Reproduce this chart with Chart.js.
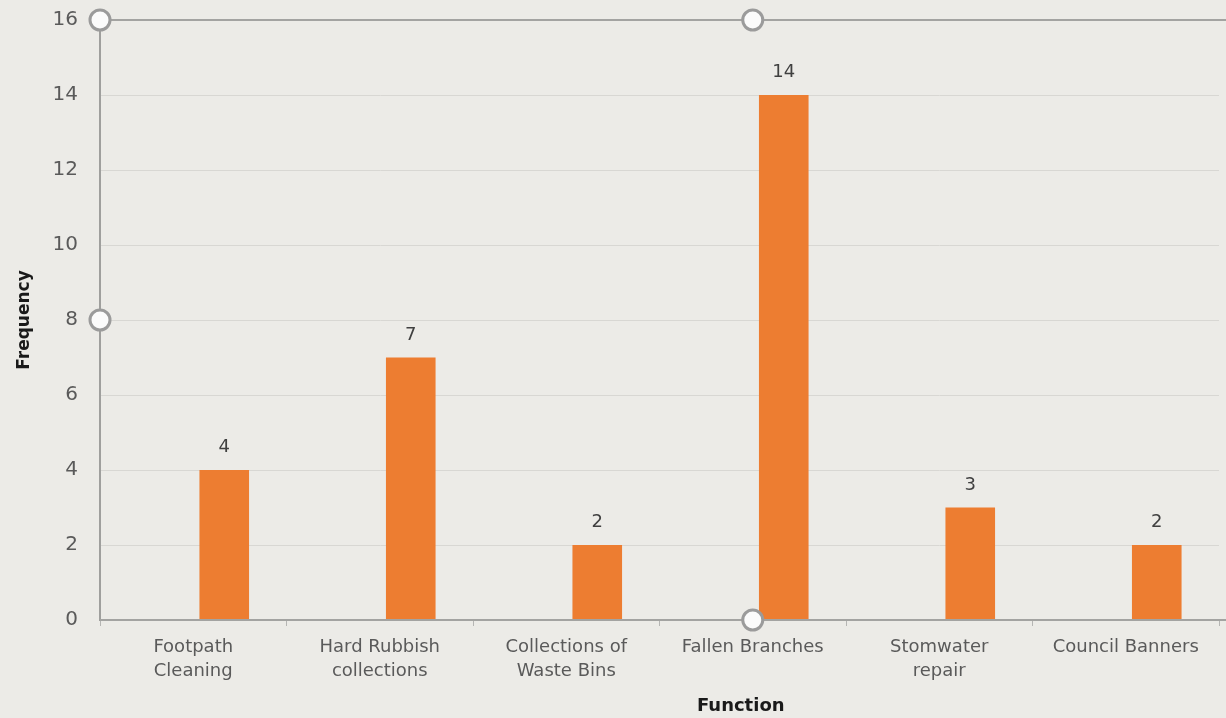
<!DOCTYPE html>
<html>
<head>
<meta charset="utf-8">
<script src="https://cdn.jsdelivr.net/npm/chart.js@4/dist/chart.umd.min.js"></script>
<style>
  html, body { margin: 0; padding: 0; background: #ecebe7; overflow: hidden; }
  #wrap { width: 1226px; height: 718px; position: relative; }
</style>
</head>
<body>
<div id="wrap"><canvas id="chart"></canvas></div>
<script>
var categories = [
    ['Footpath', 'Cleaning'],
    ['Hard Rubbish', 'collections'],
    ['Collections of', 'Waste Bins'],
    'Fallen Branches',
    ['Stomwater', 'repair'],
    'Council Banners'
];
var frequency = [4, 7, 2, 14, 3, 2];
// empty first series, as in the source sheet (keeps bars right of centre)
var emptySeries = [null, null, null, null, null, null];
var yTicks = [0, 2, 4, 6, 8, 10, 12, 14, 16];

var FONT = "'DejaVu Sans', sans-serif";

var sheetPlugin = {
    id: 'sheet',
    beforeDraw: function(chart) {
        var ctx = chart.ctx;
        ctx.save();
        ctx.fillStyle = '#ecebe7';
        ctx.fillRect(0, 0, chart.width, chart.height);
        ctx.restore();
    },
    afterDatasetsDraw: function(chart) {
        var ctx = chart.ctx;
        var meta = chart.getDatasetMeta(1);
        ctx.save();
        ctx.font = '18px ' + FONT;
        ctx.fillStyle = '#404040';
        ctx.textAlign = 'center';
        ctx.textBaseline = 'alphabetic';
        meta.data.forEach(function(bar, i) {
            ctx.fillText(String(frequency[i]), bar.x, bar.y - 18);
        });
        ctx.restore();
    },
    afterDraw: function(chart) {
        var ctx = chart.ctx;
        var area = chart.chartArea;
        var xs = chart.scales.x;
        var midX = xs.getPixelForValue(3);
        ctx.save();
        // frame lines of the selected plot area
        ctx.strokeStyle = '#a3a3a1';
        ctx.lineWidth = 2;
        ctx.beginPath();
        ctx.moveTo(area.left, area.top);
        ctx.lineTo(chart.width, area.top);
        ctx.moveTo(area.left, area.bottom);
        ctx.lineTo(chart.width, area.bottom);
        ctx.stroke();
        // selection handles
        var handles = [
            [area.left, area.top],
            [midX, area.top],
            [area.left, (area.top + area.bottom) / 2],
            [midX, area.bottom]
        ];
        handles.forEach(function(h) {
            ctx.beginPath();
            ctx.arc(h[0], h[1], 10, 0, Math.PI * 2);
            ctx.fillStyle = '#fbfbfb';
            ctx.fill();
            ctx.lineWidth = 3;
            ctx.strokeStyle = '#9b9b9b';
            ctx.stroke();
        });
        // x axis title
        ctx.font = 'bold 18px ' + FONT;
        ctx.fillStyle = '#1a1a1a';
        ctx.textAlign = 'center';
        ctx.textBaseline = 'top';
        ctx.fillText('Function', midX - 12, 697);
        ctx.restore();
    }
};

new Chart(document.getElementById('chart').getContext('2d'), {
    type: 'bar',
    data: {
        labels: categories,
        datasets: [{
            label: '',
            data: emptySeries,
            backgroundColor: 'rgba(0,0,0,0)'
        }, {
            label: 'Frequency',
            data: frequency,
            backgroundColor: '#ed7d31',
            borderWidth: 0
        }]
    },
    options: {
        responsive: true,
        maintainAspectRatio: false,
        animation: false,
        categoryPercentage: 0.665,
        barPercentage: 0.8,
        layout: { padding: { top: 20, right: 7, left: 14, bottom: 0 } },
        plugins: {
            legend: { display: false },
            tooltip: { enabled: false }
        },
        scales: {
            x: {
                offset: true,
                grid: {
                    offset: true,
                    drawOnChartArea: false,
                    drawTicks: true,
                    tickLength: 6,
                    color: '#b5b5b3'
                },
                border: { color: '#a3a3a1', width: 2 },
                ticks: {
                    color: '#5a5a5a',
                    padding: 9,
                    maxRotation: 0,
                    autoSkip: false,
                    font: { family: FONT, size: 18, lineHeight: 1.33 }
                },
                afterFit: function(scale) {
                    scale.height = 98;
                    scale.paddingLeft = 0;
                    scale.paddingRight = 0;
                }
            },
            y: {
                min: 0,
                max: 16,
                afterBuildTicks: function(scale) {
                    scale.ticks = yTicks.map(function(v) { return { value: v }; });
                },
                grid: {
                    drawTicks: false,
                    color: function(c) {
                        return c.tick && c.tick.value === 16 ? '#a3a3a1' : '#d8d7d3';
                    },
                    lineWidth: function(c) {
                        return c.tick && c.tick.value === 16 ? 2 : 1;
                    }
                },
                border: { color: '#9f9f9d', width: 2 },
                ticks: {
                    color: '#5a5a5a',
                    padding: 22,
                    font: { family: FONT, size: 20 }
                },
                title: {
                    display: true,
                    text: 'Frequency',
                    color: '#1a1a1a',
                    padding: { top: 0, bottom: 0 },
                    font: { family: FONT, size: 17, weight: 'bold' }
                },
                afterFit: function(scale) {
                    scale.width = 86;
                    scale.paddingTop = 0;
                    scale.paddingBottom = 0;
                }
            }
        }
    },
    plugins: [sheetPlugin]
});
</script>
</body>
</html>
